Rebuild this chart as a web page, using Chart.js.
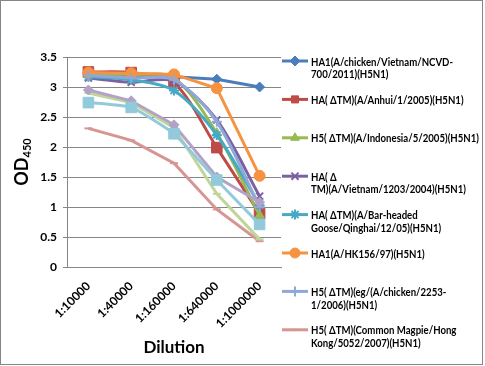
<!DOCTYPE html>
<html><head><meta charset="utf-8">
<script src="https://cdn.jsdelivr.net/npm/chart.js@4/dist/chart.umd.min.js"></script>
<style>
html,body{margin:0;padding:0;background:#fff;}
#wrap{position:relative;width:485px;height:366px;}
#frame{position:absolute;left:0;top:0;width:481px;height:363px;border:1px solid #868686;pointer-events:none;}
canvas{position:absolute;left:0;top:0;}
</style></head><body>
<div id="wrap"><canvas id="c" width="485" height="366"></canvas><div id="frame"></div></div>
<script>
// ---- data ----
const categories = ['1:10000', '1:40000', '1:160000', '1:640000', '1:1000000'];
const yTicks = [0, 0.5, 1, 1.5, 2, 2.5, 3, 3.5];

const seriesNames = [
  ['HA1(A/chicken/Vietnam/NCVD-', '700/2011)(H5N1)'],
  ['HA( \u0394TM)(A/Anhui/1/2005)(H5N1)'],
  ['H5( \u0394TM)(A/Indonesia/5/2005)(H5N1)'],
  ['HA( \u0394', 'TM)(A/Vietnam/1203/2004)(H5N1)'],
  ['HA( \u0394TM)(A/Bar-headed', 'Goose/Qinghai/12/05)(H5N1)'],
  ['HA1(A/HK156/97)(H5N1)'],
  ['H5( \u0394TM)(eg/(A/chicken/2253-', '1/2006)(H5N1)'],
  ['H5( \u0394TM)(Common Magpie/Hong', 'Kong/5052/2007)(H5N1)'],
  ['Series9'],
  ['Series10'],
  ['Series11']
];

const s1  = [3.22, 3.20, 3.17, 3.13, 3.00];
const s2  = [3.25, 3.24, 3.07, 1.99, 0.89];
const s3  = [3.20, 3.21, 3.15, 2.23, 0.86];
const s4  = [3.15, 3.08, 3.10, 2.45, 1.18];
const s5  = [3.17, 3.12, 2.94, 2.20, 1.03];
const s6  = [3.24, 3.23, 3.21, 2.98, 1.52];
const s7  = [3.19, 3.15, 3.12, 2.42, 1.00];
const s8  = [2.31, 2.11, 1.73, 0.96, 0.43];
const s9  = [2.90, 2.74, 2.32, 1.22, 0.46];
const s10 = [2.95, 2.77, 2.37, 1.50, 1.08];
const s11 = [2.74, 2.66, 2.22, 1.45, 0.71];
const seriesValues = [s1, s2, s3, s4, s5, s6, s7, s8, s9, s10, s11];

// ---- styles ----
const colors = ['#4A7EBB', '#BE4B48', '#98B954', '#7D60A0', '#46AAC5', '#F69240',
                '#8EA8D8', '#D69593', '#C0D59A', '#B3A2C7', '#93CADB'];
const pStyles = ['rectRot', 'rect', 'triangle', 'crossRot', 'star', 'circle',
                 'cross', 'line', 'line', 'rectRot', 'rect'];
const pRadius = [5, 7.5, 5.5, 5, 5, 5.5, 5, 4, 4, 5, 7.5];
const tensions = [0, 0.3, 0.3, 0.3, 0.3, 0, 0.3, 0, 0, 0, 0.15];
const LEGEND_COUNT = 8;
const FONT = 'Lato, "Liberation Sans", sans-serif';

const N = seriesValues.length;
const datasets = seriesValues.map((vals, i) => ({
  label: seriesNames[i].join(''),
  data: vals,
  borderColor: colors[i],
  backgroundColor: colors[i],
  pointBackgroundColor: colors[i],
  pointBorderColor: colors[i],
  pointStyle: pStyles[i],
  pointRadius: pRadius[i],
  pointBorderWidth: (pStyles[i] === 'crossRot' || pStyles[i] === 'star' || pStyles[i] === 'cross' || pStyles[i] === 'line') ? 2 : 1,
  borderWidth: 3,
  tension: tensions[i],
  fill: false,
  order: N - i
}));

function drawMarker(ctx, style, r, x, y, bw) {
  if (Chart.helpers && Chart.helpers.drawPoint) {
    Chart.helpers.drawPoint(ctx, {pointStyle: style, radius: r, rotation: 0, borderWidth: bw}, x, y);
  } else {
    ctx.beginPath(); ctx.arc(x, y, r, 0, Math.PI * 2); ctx.fill();
  }
}

const customLegend = {
  id: 'customLegend',
  afterDraw(chart) {
    const ctx = chart.ctx;
    ctx.save();
    // y-axis title with subscript
    ctx.save();
    ctx.translate(0, 162);
    ctx.rotate(-Math.PI / 2);
    ctx.fillStyle = '#000';
    ctx.textBaseline = 'alphabetic';
    ctx.textAlign = 'left';
    ctx.font = 'bold 18px ' + FONT;
    const w1 = ctx.measureText('OD').width;
    ctx.font = 'bold 11px ' + FONT;
    const w2 = ctx.measureText('450').width;
    const start = -(w1 + w2) / 2;
    ctx.font = 'bold 18px ' + FONT;
    ctx.fillText('OD', start, 28);
    ctx.font = 'bold 11px ' + FONT;
    ctx.fillText('450', start + w1, 31);
    ctx.restore();

    // legend
    ctx.font = 'bold 11px ' + FONT;
    const sx = 142 / ctx.measureText(seriesNames[0][0]).width;
    ctx.textBaseline = 'middle';
    ctx.textAlign = 'left';
    for (let i = 0; i < LEGEND_COUNT; i++) {
      const y0 = 61 + i * 38.4;
      ctx.strokeStyle = colors[i];
      ctx.fillStyle = colors[i];
      ctx.lineWidth = 3;
      ctx.beginPath();
      ctx.moveTo(282, y0);
      ctx.lineTo(308, y0);
      ctx.stroke();
      ctx.lineWidth = datasets[i].pointBorderWidth;
      drawMarker(ctx, pStyles[i], Math.min(pRadius[i], 5), 295, y0, datasets[i].pointBorderWidth);
      ctx.fillStyle = '#000';
      seriesNames[i].forEach((line, j) => {
        ctx.save();
        ctx.translate(311, y0 + 1 + j * 12.6);
        ctx.scale(sx, 1);
        ctx.fillText(line, 0, 0);
        ctx.restore();
      });
    }
    ctx.restore();
  }
};

new Chart(document.getElementById('c'), {
  type: 'line',
  data: { labels: categories, datasets: datasets },
  options: {
    responsive: false,
    animation: false,
    devicePixelRatio: 1,
    layout: { padding: { left: 0, top: 57, right: 204, bottom: 0 } },
    plugins: { legend: { display: false }, tooltip: { enabled: false } },
    scales: {
      x: {
        type: 'category',
        offset: true,
        grid: { display: false, drawTicks: false },
        border: { display: true, color: '#868686', width: 1 },
        ticks: {
          color: '#000',
          font: { family: FONT, size: 12, weight: 'bold' },
          maxRotation: 45, minRotation: 45,
          padding: 12
        },
        title: {
          display: true, text: 'Dilution', color: '#000',
          font: { family: FONT, size: 17, weight: 'bold' },
          padding: { top: 0, bottom: 8 }
        },
        afterFit: (s) => { s.height = 99; }
      },
      y: {
        min: 0, max: 3.5,
        afterBuildTicks: (s) => { s.ticks = yTicks.map(v => ({ value: v })); },
        grid: { color: '#868686', lineWidth: 1, tickLength: 4, drawTicks: true },
        border: { display: true, color: '#868686', width: 1 },
        ticks: {
          color: '#000',
          font: { family: FONT, size: 12, weight: 'bold' },
          padding: 6,
          callback: (v) => String(v)
        },
        afterFit: (s) => { s.width = 67; }
      }
    }
  },
  plugins: [customLegend]
});
</script>
</body></html>
